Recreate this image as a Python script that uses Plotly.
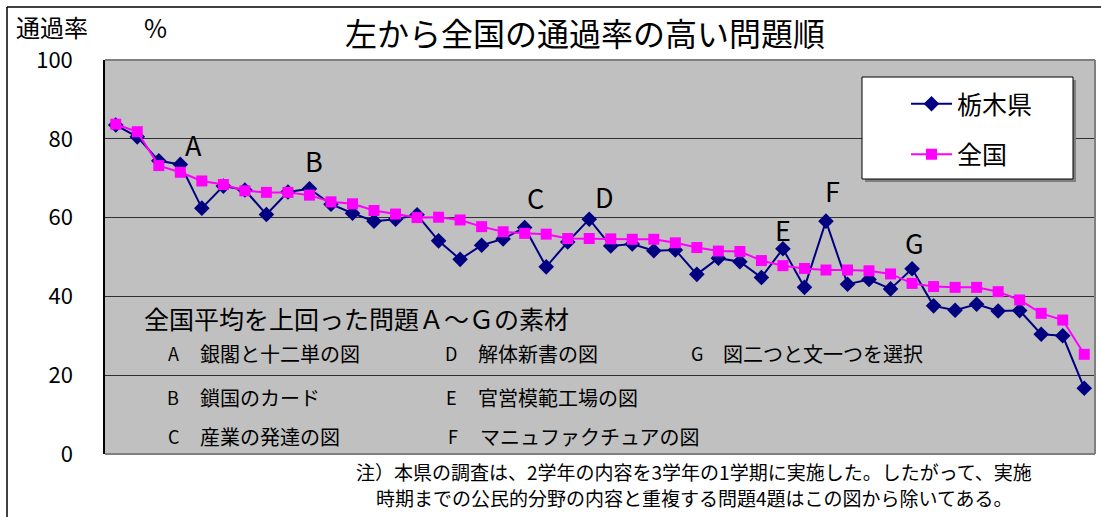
import plotly.graph_objects as go

FONT = "Noto Sans CJK JP"

# ---- data ----
problems = list(range(1, 47))
tochigi = [83.5, 80.5, 74.4, 73.5, 62.4, 68.0, 67.0, 60.8, 66.5, 67.3, 63.4, 61.1, 59.1, 59.6, 60.7,
           54.1, 49.4, 53.0, 54.6, 57.5, 47.5, 53.8, 59.6, 52.8, 53.3, 51.6, 51.8, 45.6, 49.7, 48.8,
           44.8, 52.1, 42.3, 59.1, 43.1, 44.3, 41.9, 47.0, 37.6, 36.5, 38.0, 36.3, 36.4, 30.4, 30.0, 16.7]
national = [83.7, 81.8, 73.2, 71.5, 69.3, 68.4, 66.8, 66.4, 66.4, 65.7, 64.0, 63.5, 61.8, 60.9, 60.0,
            60.1, 59.4, 57.7, 56.4, 56.0, 55.8, 54.7, 54.7, 54.6, 54.5, 54.5, 53.6, 52.4, 51.5, 51.4,
            49.1, 47.8, 47.1, 46.7, 46.7, 46.5, 45.7, 43.3, 42.5, 42.3, 42.3, 41.2, 39.1, 35.7, 34.0, 25.3]
series_names = ["栃木県", "全国"]
y_ticks = [0, 20, 40, 60, 80, 100]

mark_letters = ["A", "B", "C", "D", "E", "F", "G"]
mark_x = [4.59, 10.21, 20.48, 23.69, 32.0, 34.3, 38.1]
mark_y = [78.6, 74.6, 65.0, 65.3, 57.0, 66.8, 53.8]

material_letters = ["A", "B", "C", "D", "E", "F", "G"]
material_texts = ["銀閣と十二単の図", "鎖国のカード", "産業の発達の図",
                  "解体新書の図", "官営模範工場の図", "マニュファクチュアの図",
                  "図二つと文一つを選択"]

title_text = "左から全国の通過率の高い問題順"
ylabel_text = "通過率"
heading_text = "全国平均を上回った問題Ａ～Ｇの素材"
note_lines = ["注）本県の調査は、2学年の内容を3学年の1学期に実施した。したがって、実施",
              "時期までの公民的分野の内容と重複する問題4題はこの図から除いてある。"]

# ---- geometry helpers (pixel -> paper) ----
W, H = 1101, 517
L, R, T, B = 105, 6, 60, 63
PW, PH = W - L - R, H - T - B


def px(x):
    return (x - L) / PW


def py(y):
    return (H - B - y) / PH


fig = go.Figure()
fig.add_trace(go.Scatter(
    x=problems, y=tochigi, name=series_names[0], mode="lines+markers",
    line=dict(color="#000080", width=2),
    marker=dict(symbol="diamond", size=12, color="#000080"),
    legendgroup="a"))
fig.add_trace(go.Scatter(
    x=problems, y=national, name=series_names[1], mode="lines+markers",
    line=dict(color="#FF00FF", width=2),
    marker=dict(symbol="square", size=11, color="#FF00FF"),
    legendgroup="b"))

shapes = []
# outer frame (left & top)
shapes.append(dict(type="line", xref="paper", yref="paper", x0=px(7), x1=px(7), y0=py(7), y1=py(H + 5),
                   line=dict(color="black", width=1.5)))
shapes.append(dict(type="line", xref="paper", yref="paper", x0=px(7), x1=px(W + 5), y0=py(7), y1=py(7),
                   line=dict(color="black", width=1.5)))
# plot area border (top, right, bottom grey)
for (x0, y0, x1, y1) in [(0, 1, 1, 1), (1, 0, 1, 1), (0, 0, 1, 0)]:
    shapes.append(dict(type="line", xref="paper", yref="paper", x0=x0, y0=y0, x1=x1, y1=y1,
                       line=dict(color="#808080", width=2), layer="above"))
# legend box shadow and box
shapes.append(dict(type="rect", xref="paper", yref="paper", x0=px(865), x1=px(1076), y0=py(182), y1=py(80),
                   fillcolor="#808080", line=dict(width=0), layer="above"))
shapes.append(dict(type="rect", xref="paper", yref="paper", x0=px(862), x1=px(1073), y0=py(179), y1=py(77),
                   fillcolor="white", line=dict(color="black", width=1), layer="above"))

ann = []
ann.append(dict(text=title_text, xref="paper", yref="paper", x=px(585), y=py(32), showarrow=False,
                xanchor="center", yanchor="middle", font=dict(size=32, color="black", family=FONT)))
ann.append(dict(text=ylabel_text, xref="paper", yref="paper", x=px(14), y=py(26), showarrow=False,
                xanchor="left", yanchor="middle", font=dict(size=24, color="black", family=FONT)))
ann.append(dict(text="%", xref="paper", yref="paper", x=px(155), y=py(27), showarrow=False,
                xanchor="center", yanchor="middle", font=dict(size=25, color="black", family=FONT)))
for s, xv, yv in zip(mark_letters, mark_x, mark_y):
    ann.append(dict(text=s, x=xv, y=yv, xref="x", yref="y", showarrow=False,
                    font=dict(size=27, color="black", family=FONT)))
ann.append(dict(text=heading_text, xref="paper", yref="paper", x=px(142), y=py(318), showarrow=False,
                xanchor="left", yanchor="middle", font=dict(size=25, color="black", family=FONT)))
col_letter_x = [173, 173, 173, 451, 451, 453, 697]
col_text_x = [198, 198, 198, 476, 476, 478, 721]
row_y = [353, 397, 436, 353, 397, 436, 353]
for s, t, lx, tx, ry in zip(material_letters, material_texts, col_letter_x, col_text_x, row_y):
    ann.append(dict(text=s, xref="paper", yref="paper", x=px(lx), y=py(ry), showarrow=False,
                    xanchor="center", yanchor="middle", font=dict(size=18, color="black", family=FONT)))
    ann.append(dict(text=t, xref="paper", yref="paper", x=px(tx), y=py(ry), showarrow=False,
                    xanchor="left", yanchor="middle", font=dict(size=20, color="black", family=FONT)))
for line_text, ly in zip(note_lines, [471, 497]):
    ann.append(dict(text=line_text, xref="paper", yref="paper", x=px(694), y=py(ly), showarrow=False,
                    xanchor="center", yanchor="middle",
                    font=dict(size=19, color="black", family=FONT)))

fig.update_layout(
    width=W, height=H,
    margin=dict(l=L, r=R, t=T, b=B, pad=0),
    paper_bgcolor="white", plot_bgcolor="#C0C0C0",
    font=dict(family=FONT, color="black"),
    showlegend=True,
    legend=dict(x=px(906), y=py(81), xanchor="left", yanchor="top",
                bgcolor="rgba(0,0,0,0)", borderwidth=0,
                font=dict(size=25, color="black", family=FONT),
                tracegroupgap=15, itemwidth=41),
    xaxis=dict(range=[0.5, 46.5], showgrid=False, zeroline=False, showticklabels=False,
               ticks="", showline=False, fixedrange=True),
    yaxis=dict(range=[0, 100], tickvals=y_ticks, ticktext=[str(v) for v in y_ticks],
               showgrid=True, gridcolor="#303030", gridwidth=1, zeroline=False,
               showline=True, linecolor="black", linewidth=1.5, ticks="",
               ticklabelstandoff=26, tickfont=dict(size=22, color="black", family=FONT)),
    shapes=shapes, annotations=ann,
)

fig.write_html("out.html")
